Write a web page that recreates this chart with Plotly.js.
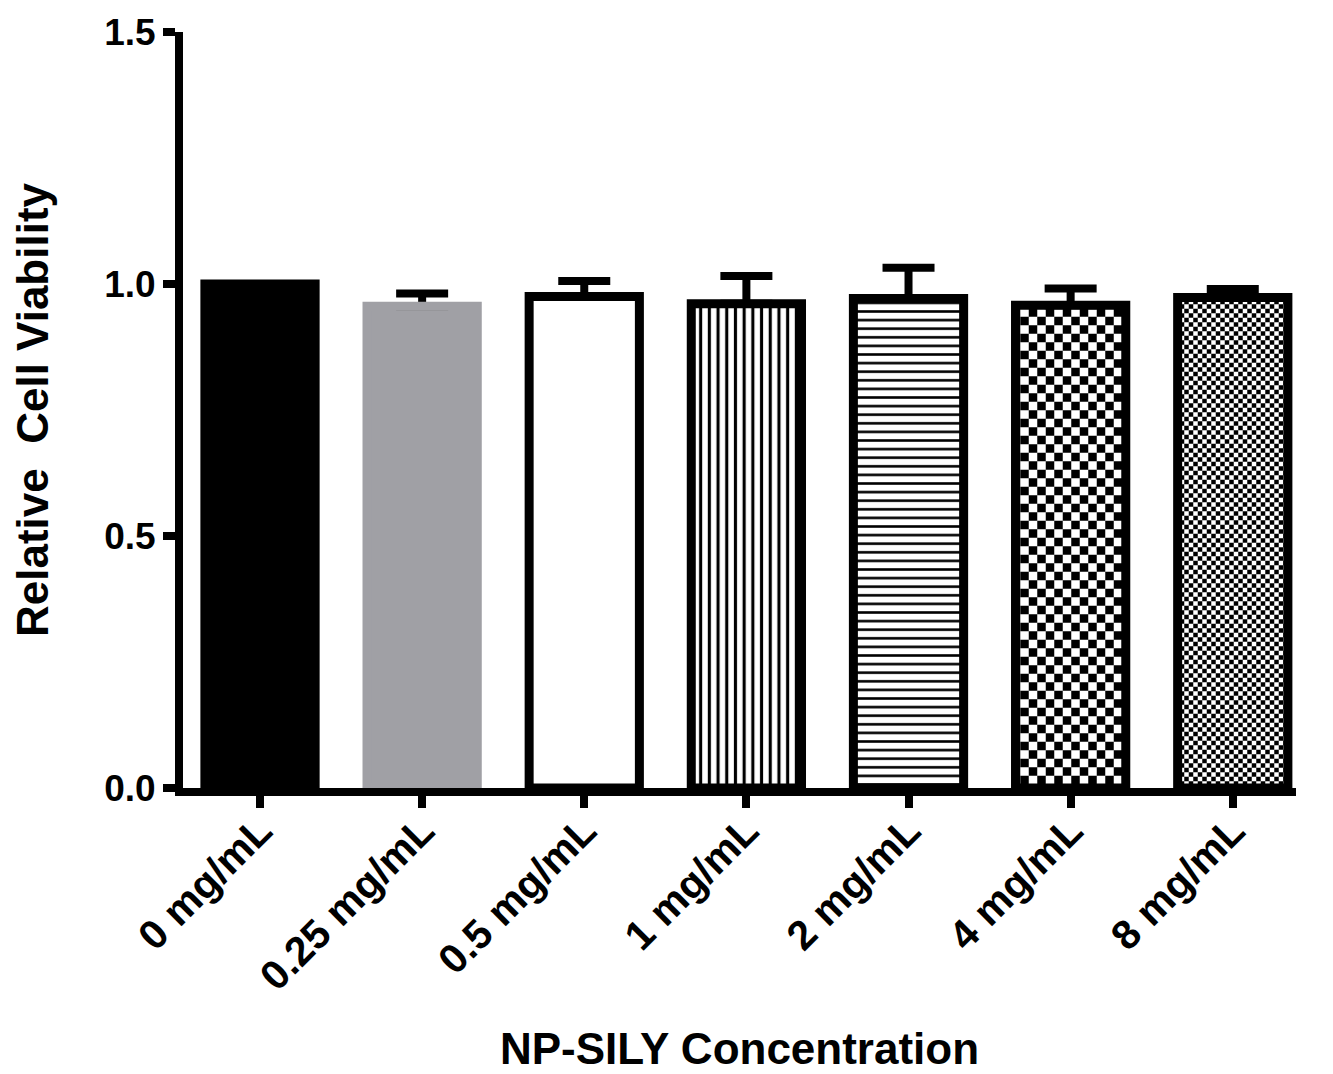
<!DOCTYPE html>
<html>
<head>
<meta charset="utf-8">
<script src="https://cdn.plot.ly/plotly-3.0.1.min.js"></script>
<style>
  html, body { margin: 0; padding: 0; background: #ffffff; }
  #chart { width: 1333px; height: 1074px; }
</style>
</head>
<body>
<div id="chart"></div>
<script>
// ---------------- data ----------------
const categories = ['0 mg/mL', '0.25 mg/mL', '0.5 mg/mL', '1 mg/mL', '2 mg/mL', '4 mg/mL', '8 mg/mL'];
const viability = [1.000, 0.956, 0.975, 0.961, 0.971, 0.958, 0.973];
const errUpper = [0.000, 0.025, 0.031, 0.055, 0.061, 0.033, 0.017];
const yTickValues = [0, 0.5, 1.0, 1.5];
const yTickLabels = ['0.0', '0.5', '1.0', '1.5'];

// which categories are solid-filled, striped/checkered
const solidIndex = [0, 1, 2];
const patternIndex = [3, 4, 5, 6];
const checkerIndex = [5, 6];

// ---------------- styles ----------------
const FONT = 'Arial, "Liberation Sans", Helvetica, sans-serif';
const solidColors = ['#000000', '#a0a0a5', '#ffffff'];
const outlineColors = ['#000000', '#a0a0a5', '#000000', '#000000', '#000000', '#000000', '#000000'];
const patternShapes = ['|', '-', '|', '|'];
const patternSizes = [8.7, 8.6, 17, 9];
const patternSolidity = [0.36, 0.3, 0.5, 0.5];
const BAR_WIDTH = 0.68;
const OUTLINE_W = 9;

const pick = (arr, idx) => idx.map(i => arr[i]);
const zeros = categories.map(() => 0);

// 1) solid bars
const solidTrace = {
  type: 'bar',
  x: pick(categories, solidIndex),
  y: pick(viability, solidIndex),
  width: BAR_WIDTH,
  marker: { color: solidColors, line: { width: 0 } },
  hoverinfo: 'skip', showlegend: false
};

// 2) patterned bars (black lines on white)
const patternTrace = {
  type: 'bar',
  x: pick(categories, patternIndex),
  y: pick(viability, patternIndex),
  width: BAR_WIDTH,
  marker: {
    color: '#ffffff',
    line: { width: 0 },
    pattern: {
      shape: patternShapes,
      size: patternSizes,
      solidity: patternSolidity,
      fgcolor: '#000000',
      bgcolor: '#ffffff',
      fillmode: 'replace'
    }
  },
  hoverinfo: 'skip', showlegend: false
};

// 3) white horizontal stripes, blended with "difference" -> checkerboard
const checkerSizes = checkerIndex.map(i => patternSizes[patternIndex.indexOf(i)]);
const xorTrace = {
  type: 'bar',
  x: pick(categories, checkerIndex),
  y: pick(viability, checkerIndex),
  width: BAR_WIDTH,
  marker: {
    color: 'rgba(0,0,0,0)',
    line: { width: 0 },
    pattern: {
      shape: '-',
      size: checkerSizes,
      solidity: 0.5,
      fgcolor: '#ffffff',
      bgcolor: 'rgba(0,0,0,0)',
      fillmode: 'replace'
    }
  },
  hoverinfo: 'skip', showlegend: false
};

// 4) error bars (upper only)
const errorTrace = {
  type: 'bar',
  x: categories,
  y: viability,
  width: BAR_WIDTH,
  marker: { color: 'rgba(0,0,0,0)', line: { width: 0 } },
  error_y: {
    type: 'data',
    symmetric: false,
    array: errUpper,
    arrayminus: zeros,
    color: '#000000',
    thickness: 8,
    width: 26
  },
  hoverinfo: 'skip', showlegend: false
};

// 5) thick outlines on top
const outlineTrace = {
  type: 'bar',
  x: categories,
  y: viability,
  width: BAR_WIDTH,
  marker: { color: 'rgba(0,0,0,0)', line: { color: outlineColors, width: OUTLINE_W } },
  hoverinfo: 'skip', showlegend: false
};

const layout = {
  width: 1333,
  height: 1074,
  paper_bgcolor: '#ffffff',
  plot_bgcolor: '#ffffff',
  barmode: 'overlay',
  margin: { l: 183, r: 37, t: 32, b: 286, pad: 0 },
  font: { family: FONT, color: '#000000' },
  xaxis: {
    type: 'category',
    categoryorder: 'array',
    categoryarray: categories,
    range: [-0.475, 6.39],
    showline: true,
    linecolor: '#000000',
    linewidth: 8,
    ticks: 'outside',
    ticklen: 12,
    tickwidth: 8,
    tickcolor: '#000000',
    tickangle: -45,
    ticklabelstandoff: -18,
    tickfont: { family: FONT, size: 41, weight: 'bold', color: '#000000' },
    showgrid: false,
    zeroline: false,
    automargin: false,
    title: {
      text: 'NP-SILY Concentration',
      font: { family: FONT, size: 44, weight: 'bold', color: '#000000' },
      standoff: 38
    }
  },
  yaxis: {
    range: [0, 1.5],
    tickmode: 'array',
    tickvals: yTickValues,
    ticktext: yTickLabels,
    showline: true,
    linecolor: '#000000',
    linewidth: 8,
    ticks: 'outside',
    ticklen: 12,
    tickwidth: 8,
    tickcolor: '#000000',
    tickfont: { family: FONT, size: 37, weight: 'bold', color: '#000000' },
    showgrid: false,
    zeroline: false,
    automargin: false,
    title: {
      text: 'Relative\u00a0 Cell Viability',
      font: { family: FONT, size: 44, weight: 'bold', color: '#000000' },
      standoff: 45
    }
  }
};

Plotly.newPlot('chart', [solidTrace, patternTrace, xorTrace, errorTrace, outlineTrace], layout,
  { staticPlot: true, displayModeBar: false })
  .then(() => {
    const groups = document.querySelectorAll('#chart .barlayer .trace');
    if (groups.length > 2) {
      groups[2].style.mixBlendMode = 'difference';
    }
  });
</script>
</body>
</html>
